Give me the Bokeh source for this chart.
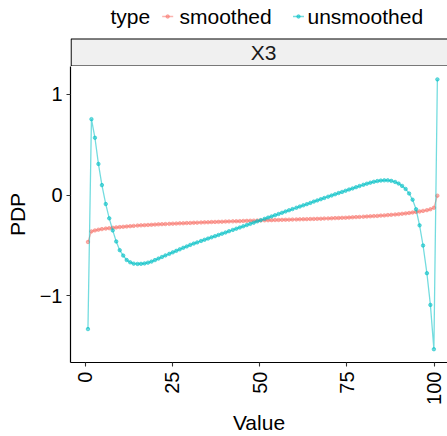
import math
from bokeh.plotting import figure
from bokeh.layouts import column
from bokeh.models import Range1d, FixedTicker, ColumnDataSource
from bokeh.core.properties import value
from bokeh.embed import file_html
from bokeh.resources import INLINE

# ---------------- data ----------------
value_grid = [0.8, 1.8, 2.8, 3.8, 4.8, 5.9, 6.9, 7.9, 8.9, 9.9,
              10.9, 11.9, 12.9, 13.9, 15.0, 16.0, 17.0, 18.0, 19.0, 20.0,
              21.0, 22.0, 23.0, 24.1, 25.1, 26.1, 27.1, 28.1, 29.1, 30.1,
              31.1, 32.1, 33.2, 34.2, 35.2, 36.2, 37.2, 38.2, 39.2, 40.2,
              41.2, 42.3, 43.3, 44.3, 45.3, 46.3, 47.3, 48.3, 49.3, 50.3,
              51.4, 52.4, 53.4, 54.4, 55.4, 56.4, 57.4, 58.4, 59.4, 60.5,
              61.5, 62.5, 63.5, 64.5, 65.5, 66.5, 67.5, 68.5, 69.6, 70.6,
              71.6, 72.6, 73.6, 74.6, 75.6, 76.6, 77.6, 78.6, 79.7, 80.7,
              81.7, 82.7, 83.7, 84.7, 85.7, 86.7, 87.7, 88.8, 89.8, 90.8,
              91.8, 92.8, 93.8, 94.8, 95.8, 96.8, 97.9, 98.9, 99.9, 100.9]

pdp_smoothed = [-0.465, -0.360, -0.350, -0.343, -0.337, -0.332, -0.328, -0.324, -0.320, -0.317,
                -0.314, -0.311, -0.308, -0.305, -0.302, -0.300, -0.298, -0.296, -0.294, -0.292,
                -0.290, -0.288, -0.287, -0.285, -0.283, -0.282, -0.280, -0.279, -0.277, -0.276,
                -0.274, -0.273, -0.271, -0.270, -0.269, -0.267, -0.266, -0.265, -0.264, -0.262,
                -0.261, -0.260, -0.259, -0.258, -0.256, -0.255, -0.254, -0.253, -0.252, -0.251,
                -0.250, -0.249, -0.248, -0.247, -0.246, -0.245, -0.244, -0.243, -0.242, -0.241,
                -0.240, -0.239, -0.238, -0.237, -0.236, -0.235, -0.234, -0.232, -0.231, -0.230,
                -0.228, -0.227, -0.225, -0.224, -0.222, -0.220, -0.218, -0.216, -0.214, -0.212,
                -0.210, -0.208, -0.206, -0.203, -0.201, -0.198, -0.195, -0.192, -0.189, -0.185,
                -0.181, -0.177, -0.172, -0.167, -0.162, -0.156, -0.149, -0.140, -0.125, -0.005]

pdp_unsmoothed = [-1.330, 0.755, 0.570, 0.310, 0.100, -0.088, -0.230, -0.350, -0.460, -0.546,
                  -0.600, -0.644, -0.667, -0.680, -0.683, -0.682, -0.678, -0.670, -0.660, -0.645,
                  -0.630, -0.614, -0.598, -0.583, -0.568, -0.553, -0.538, -0.523, -0.509, -0.494,
                  -0.481, -0.469, -0.455, -0.443, -0.431, -0.419, -0.407, -0.395, -0.383, -0.371,
                  -0.358, -0.345, -0.333, -0.321, -0.309, -0.297, -0.285, -0.273, -0.260, -0.248,
                  -0.235, -0.223, -0.211, -0.199, -0.187, -0.175, -0.162, -0.150, -0.138, -0.125,
                  -0.113, -0.101, -0.089, -0.077, -0.064, -0.052, -0.040, -0.028, -0.015, -0.003,
                  0.009, 0.021, 0.032, 0.044, 0.056, 0.067, 0.079, 0.091, 0.103, 0.114,
                  0.124, 0.133, 0.140, 0.145, 0.147, 0.147, 0.142, 0.131, 0.115, 0.092,
                  0.062, 0.017, -0.045, -0.140, -0.300, -0.500, -0.775, -1.090, -1.530, 1.150]

series_names = ["smoothed", "unsmoothed"]
series_colors = ["#F8766D", "#00BFC4"]
facet_label = "X3"
legend_title = "type"
x_ticks = [0, 25, 50, 75, 100]
y_ticks = [-1, 0, 1]
y_tick_labels = {-1: "\u22121", 0: "0", 1: "1"}

FONT = "Liberation Sans"
ALPHA = 0.55

# ---------------- header (legend + facet strip) ----------------
# the column aligns this frame with the panel frame (page x 70..447)
top = figure(width=447, height=66, x_range=Range1d(70, 447), y_range=Range1d(66, 0),
             output_backend="svg", toolbar_location=None, title=None,
             min_border=0, min_border_left=70, min_border_right=0,
             min_border_top=0, min_border_bottom=0)
top.axis.visible = False
top.grid.visible = False
top.outline_line_color = None
top.background_fill_color = "white"
top.border_fill_color = "white"

# facet strip
top.quad(left=[70.6], right=[470], top=[38.5], bottom=[65.5],
         fill_color="#F0F0F0", line_color="black", line_width=1.2)
top.text(x=[263], y=[52], text=[facet_label], text_font=value(FONT),
         text_font_size=value("21px"), text_align="center", text_baseline="middle",
         text_color="#1A1A1A")

# legend
top.text(x=[110], y=[16], text=[legend_title], text_font=value(FONT),
         text_font_size=value("21px"), text_align="left", text_baseline="middle",
         text_color="black")
key_x0 = [161.7, 292.5]
label_x = [179, 307]
for name, col, kx, lx in zip(series_names, series_colors, key_x0, label_x):
    top.segment(x0=[kx], x1=[kx + 11], y0=[16], y1=[16], line_color=col,
                line_alpha=ALPHA, line_width=1.3)
    top.scatter(x=[kx + 5.5], y=[16], size=3.5, fill_color=col, line_color=col,
                fill_alpha=ALPHA, line_alpha=ALPHA)
    top.text(x=[lx], y=[16], text=[name], text_font=value(FONT),
             text_font_size=value("21px"), text_align="left", text_baseline="middle",
             text_color="black")

# ---------------- main panel ----------------
p = figure(width=447, height=370, x_range=Range1d(-4.2, 103.8), y_range=Range1d(-1.662, 1.278),
           output_backend="svg", toolbar_location=None, title=None,
           min_border_left=70, min_border_right=0, min_border_top=0, min_border_bottom=71)
p.grid.visible = False
p.outline_line_color = None
p.background_fill_color = "white"
p.border_fill_color = "white"

for name, col, ys in zip(series_names, series_colors, [pdp_smoothed, pdp_unsmoothed]):
    src = ColumnDataSource(dict(x=value_grid, y=ys))
    p.line("x", "y", source=src, line_color=col, line_alpha=ALPHA, line_width=1.3)
    p.scatter("x", "y", source=src, size=3.5, fill_color=col, line_color=col,
              fill_alpha=ALPHA, line_alpha=ALPHA)

p.xaxis.ticker = FixedTicker(ticks=x_ticks)
p.yaxis.ticker = FixedTicker(ticks=y_ticks)
p.yaxis.major_label_overrides = y_tick_labels
p.xaxis.major_label_orientation = math.pi / 2
p.xaxis.axis_label = "Value"
p.yaxis.axis_label = "PDP"
for ax in [p.xaxis[0], p.yaxis[0]]:
    ax.axis_line_color = "black"
    ax.axis_line_width = 1.2
    ax.major_tick_line_color = "#333333"
    ax.major_tick_line_width = 1.1
    ax.major_tick_out = 4
    ax.major_tick_in = 0
    ax.minor_tick_line_color = None
    ax.major_label_text_font = FONT
    ax.major_label_text_font_size = "20px"
    ax.major_label_text_color = "black"
    ax.axis_label_text_font = FONT
    ax.axis_label_text_font_size = "21px"
    ax.axis_label_text_font_style = "normal"
    ax.axis_label_text_color = "black"
p.yaxis[0].major_label_standoff = 4
p.yaxis[0].axis_label_standoff = 8
p.xaxis[0].major_label_standoff = 5
p.xaxis[0].axis_label_standoff = 3

layout = column(top, p, spacing=0)
open("out.html", "w").write(file_html(layout, INLINE))
